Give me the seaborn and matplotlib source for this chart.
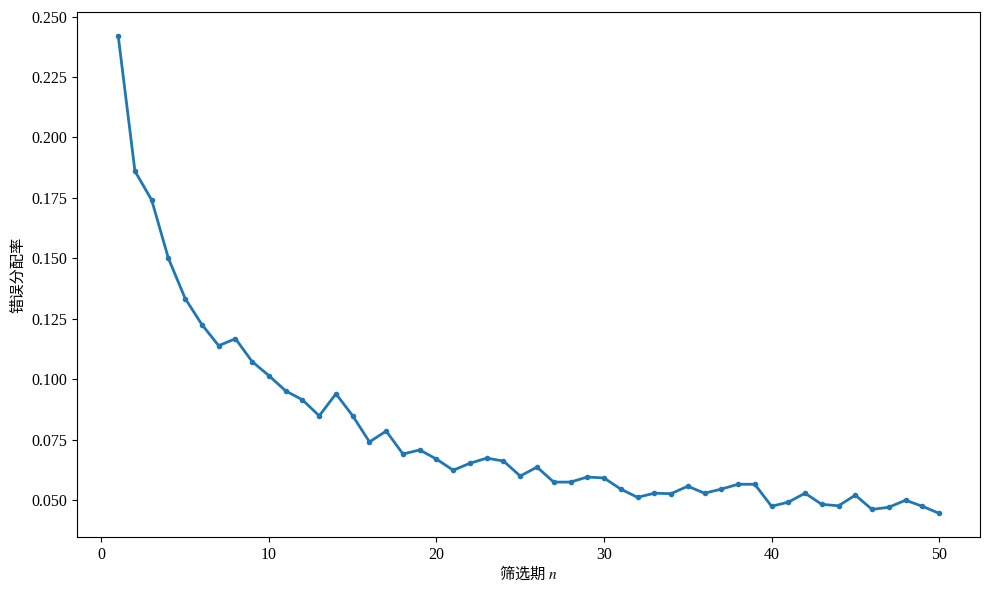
import numpy as np
import pandas as pd
import matplotlib
matplotlib.use("Agg")
import matplotlib.pyplot as plt
import seaborn as sns

# screening period and error allocation rate
periods = list(range(1, 51))
error_rate = [
    0.2421, 0.1861, 0.1741, 0.1500, 0.1334, 0.1226, 0.1139, 0.1168, 0.1073, 0.1015,
    0.0952, 0.0915, 0.0849, 0.0940, 0.0849, 0.0741, 0.0786, 0.0691, 0.0708, 0.0670,
    0.0624, 0.0653, 0.0674, 0.0662, 0.0600, 0.0637, 0.0575, 0.0575, 0.0596, 0.0592,
    0.0546, 0.0512, 0.0529, 0.0527, 0.0558, 0.0529, 0.0546, 0.0566, 0.0566, 0.0475,
    0.0492, 0.0529, 0.0483, 0.0477, 0.0521, 0.0462, 0.0471, 0.0500, 0.0475, 0.0446,
]

df = pd.DataFrame({"period": periods, "rate": error_rate})

plt.rcParams['font.family'] = ['Liberation Serif', 'Noto Sans CJK SC', 'DejaVu Sans']
plt.rcParams['mathtext.fontset'] = 'stix'
plt.rcParams['axes.unicode_minus'] = False

fig, ax = plt.subplots(figsize=(9.89, 5.89), dpi=100)
sns.lineplot(data=df, x="period", y="rate", marker="o", markersize=4,
             markeredgewidth=0, linewidth=2, color="#1f77b4", ax=ax)

# mathtext doesn't fall back between families, so give the label a CJK font
ax.set_xlabel("筛选期 $n$", fontsize=11, family="Noto Sans CJK SC", labelpad=1)
ax.set_ylabel("错误分配率", fontsize=11, family="Noto Sans CJK SC")
ax.set_xticks([0, 10, 20, 30, 40, 50])
ax.set_yticks(np.arange(0.05, 0.2501, 0.025))
ax.yaxis.set_major_formatter(matplotlib.ticker.FormatStrFormatter("%.3f"))
ax.tick_params(labelsize=11.5)

fig.subplots_adjust(left=0.078, right=0.991, top=0.980, bottom=0.088)
plt.savefig("out.png", dpi=100)
